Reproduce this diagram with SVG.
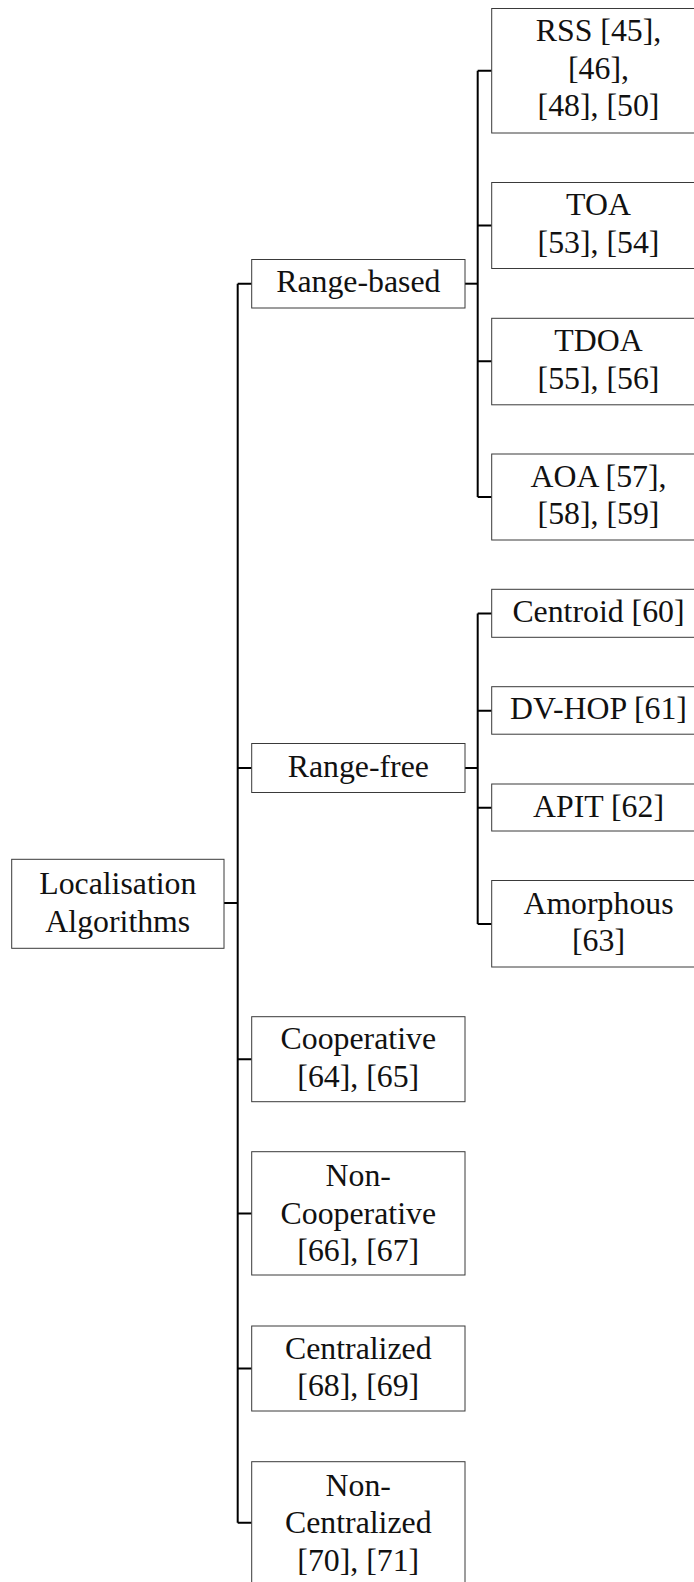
<svg xmlns="http://www.w3.org/2000/svg" width="694" height="1582" viewBox="0 0 694 1582">
  <style>
    .box { fill: #ffffff; stroke: #3a3a3a; stroke-width: 1; }
    .wire { fill: none; stroke: #000000; stroke-width: 2; }
  </style>
  <rect width="694" height="1582" fill="#ffffff"/>

  <!-- tree connectors -->
  <g id="connectors">
    <!-- root to second level -->
    <path class="wire" d="M224,903 H237.7"/>
    <path class="wire" d="M237.7,283.7 V1522.7"/>
    <path class="wire" d="M237.7,283.7 H251.7 M237.7,768 H251.7 M237.7,1059.2 H251.7 M237.7,1213.4 H251.7 M237.7,1368.5 H251.7 M237.7,1522.7 H251.7"/>
    <!-- range-based children -->
    <path class="wire" d="M465,283.7 H477.7"/>
    <path class="wire" d="M477.7,70.7 V497"/>
    <path class="wire" d="M477.7,70.7 H491.7 M477.7,225.5 H491.7 M477.7,361.2 H491.7 M477.7,497 H491.7"/>
    <!-- range-free children -->
    <path class="wire" d="M465,768 H477.7"/>
    <path class="wire" d="M477.7,613.5 V924"/>
    <path class="wire" d="M477.7,613.5 H491.7 M477.7,710.7 H491.7 M477.7,807.7 H491.7 M477.7,924 H491.7"/>
  </g>

  <g font-family="Liberation Serif, Times New Roman, serif" font-size="31.8" fill="#111111" text-anchor="middle">
  <!-- root -->
  <g id="localisation">
    <rect class="box" x="11.7" y="859.3" width="212.3" height="89"/>
    <text x="117.8" y="894">Localisation</text>
    <text x="117.8" y="931.5">Algorithms</text>
  </g>

  <!-- second level -->
  <g id="range-based">
    <rect class="box" x="251.7" y="259.5" width="213.3" height="48.5"/>
    <text x="358.3" y="292">Range-based</text>
  </g>
  <g id="range-free">
    <rect class="box" x="251.7" y="743.5" width="213.3" height="49"/>
    <text x="358.3" y="777">Range-free</text>
  </g>
  <g id="cooperative">
    <rect class="box" x="251.7" y="1016.7" width="213.3" height="85"/>
    <text x="358.3" y="1049">Cooperative</text>
    <text x="358.3" y="1086.5">[64], [65]</text>
  </g>
  <g id="non-cooperative">
    <rect class="box" x="251.7" y="1151.7" width="213.3" height="123.3"/>
    <text x="358.3" y="1186">Non-</text>
    <text x="358.3" y="1223.5">Cooperative</text>
    <text x="358.3" y="1261">[66], [67]</text>
  </g>
  <g id="centralized">
    <rect class="box" x="251.7" y="1326" width="213.3" height="85"/>
    <text x="358.3" y="1358.5">Centralized</text>
    <text x="358.3" y="1396">[68], [69]</text>
  </g>
  <g id="non-centralized">
    <rect class="box" x="251.7" y="1461.7" width="213.3" height="124"/>
    <text x="358.3" y="1495.5">Non-</text>
    <text x="358.3" y="1533">Centralized</text>
    <text x="358.3" y="1570.5">[70], [71]</text>
  </g>

  <!-- range-based techniques -->
  <g id="rss">
    <rect class="box" x="491.7" y="8.5" width="213.5" height="124.5"/>
    <text x="598.5" y="41">RSS [45],</text>
    <text x="598.5" y="78.5">[46],</text>
    <text x="598.5" y="116">[48], [50]</text>
  </g>
  <g id="toa">
    <rect class="box" x="491.7" y="182.5" width="213.5" height="86"/>
    <text x="598.5" y="215">TOA</text>
    <text x="598.5" y="252.5">[53], [54]</text>
  </g>
  <g id="tdoa">
    <rect class="box" x="491.7" y="318.3" width="213.5" height="86.5"/>
    <text x="598.5" y="351">TDOA</text>
    <text x="598.5" y="388.5">[55], [56]</text>
  </g>
  <g id="aoa">
    <rect class="box" x="491.7" y="454" width="213.5" height="86"/>
    <text x="598.5" y="486.5">AOA [57],</text>
    <text x="598.5" y="524">[58], [59]</text>
  </g>

  <!-- range-free techniques -->
  <g id="centroid">
    <rect class="box" x="491.7" y="589.3" width="213.5" height="48"/>
    <text x="598.5" y="622">Centroid [60]</text>
  </g>
  <g id="dv-hop">
    <rect class="box" x="491.7" y="686.7" width="213.5" height="47.5"/>
    <text x="598.5" y="719">DV-HOP [61]</text>
  </g>
  <g id="apit">
    <rect class="box" x="491.7" y="784" width="213.5" height="47"/>
    <text x="598.5" y="816.5">APIT [62]</text>
  </g>
  <g id="amorphous">
    <rect class="box" x="491.7" y="880.5" width="213.5" height="86.5"/>
    <text x="598.5" y="913.5">Amorphous</text>
    <text x="598.5" y="951">[63]</text>
  </g>
  </g>
</svg>
